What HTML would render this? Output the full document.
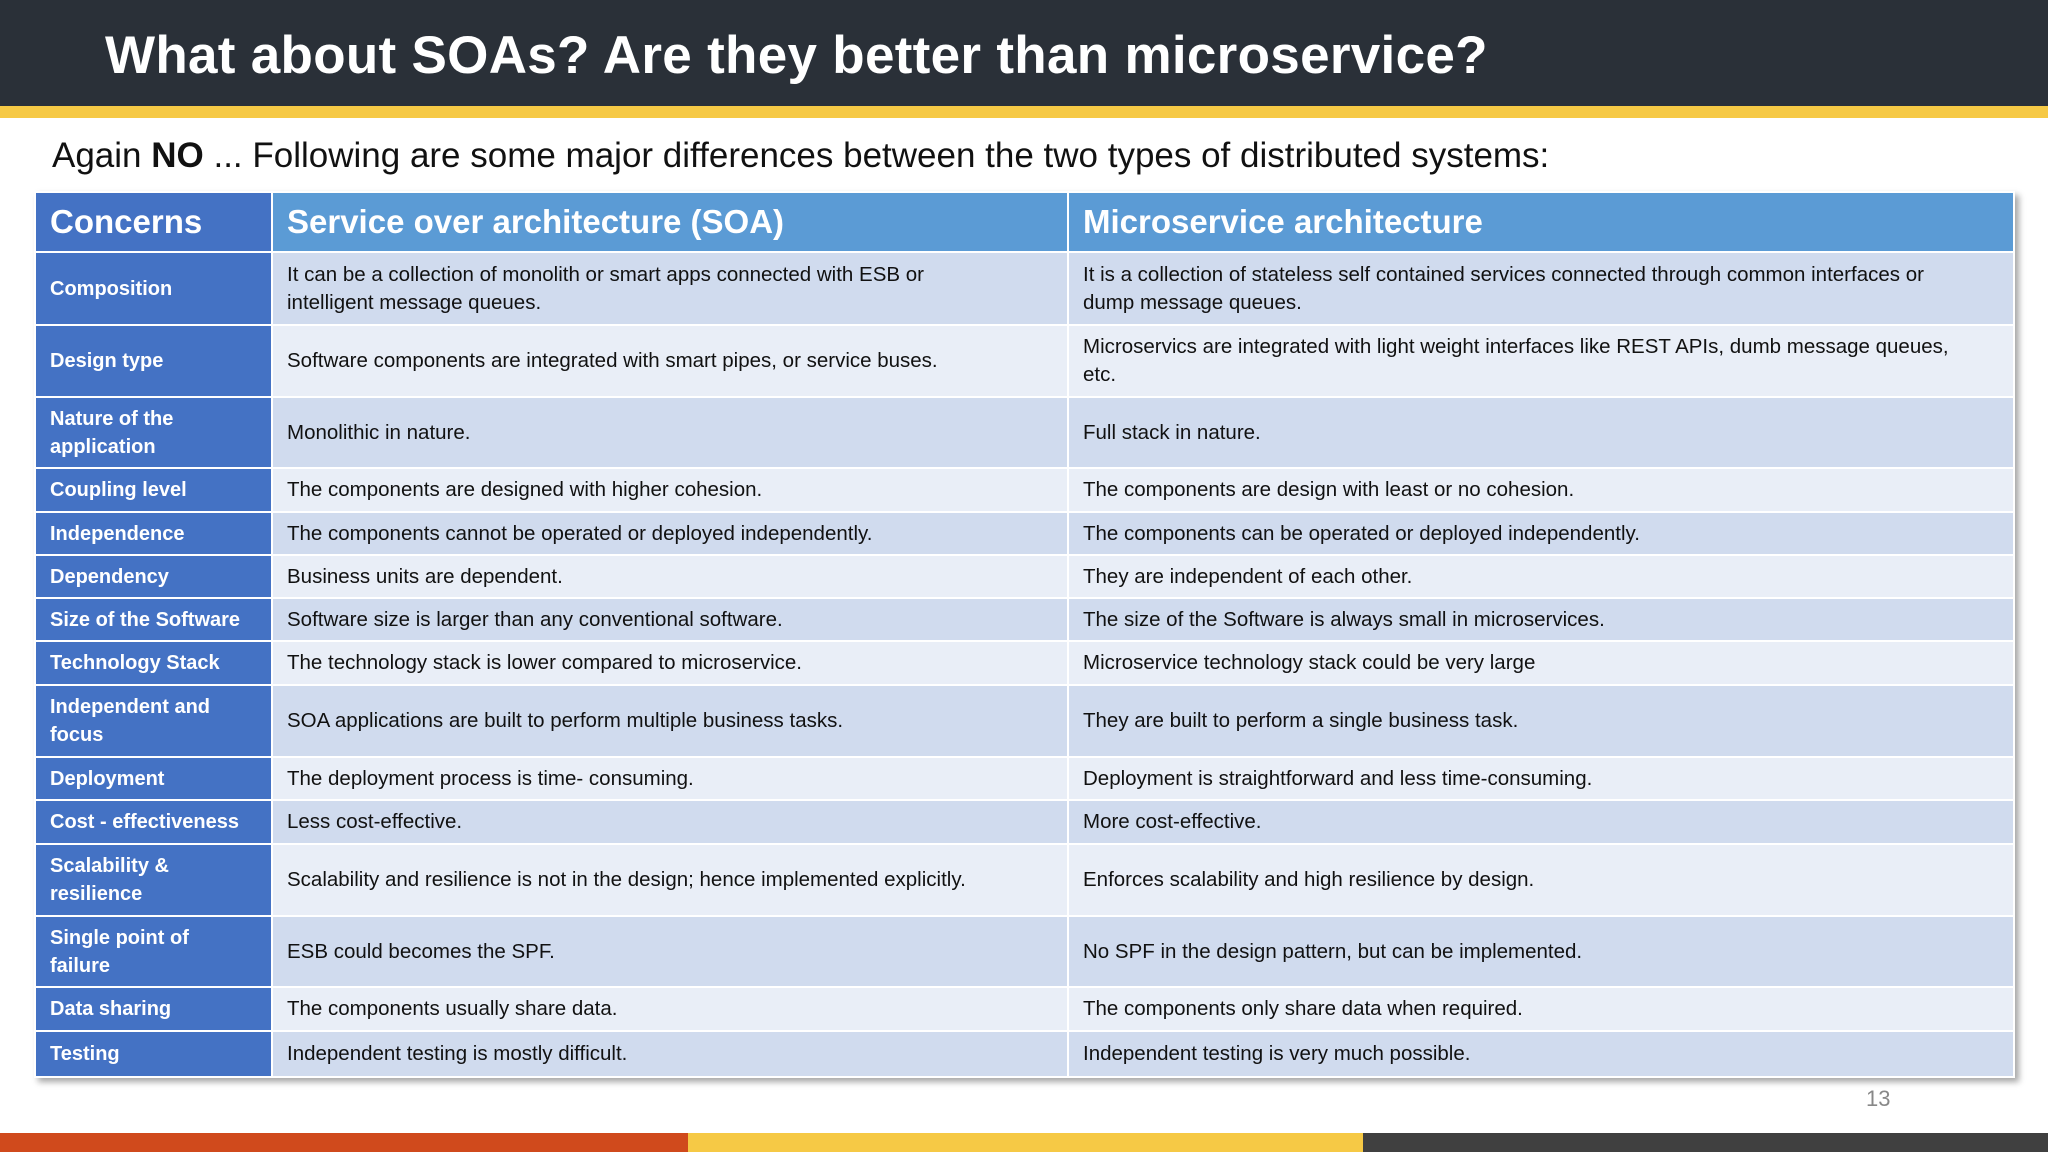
<!DOCTYPE html>
<html><head><meta charset="utf-8"><style>
*{margin:0;padding:0;box-sizing:border-box}
body{width:2048px;height:1152px;overflow:hidden;background:#fff;font-family:"Liberation Sans",sans-serif;position:relative}
#hdr{position:absolute;left:0;top:0;width:2048px;height:106px;background:#2a3038}
#hdr h1{position:absolute;left:105px;top:25px;color:#fff;font-size:53px;font-weight:bold;letter-spacing:0.3px}
#stripe{position:absolute;left:0;top:106px;width:2048px;height:12px;background:#f6c945}
#sub{position:absolute;left:52px;top:136px;font-size:35px;color:#111}
table{position:absolute;left:34px;top:191px;width:1981px;border-collapse:collapse;box-shadow:4px 4px 6px rgba(0,0,0,0.35);table-layout:fixed}
td,th{border:2px solid #fff;text-align:left;vertical-align:middle;padding:0 14px;font-size:20.5px;color:#111;line-height:28px}
th{background:#5b9bd5;color:#fff;font-size:33px;height:60px}
th.c,td.c{background:#4472c4;color:#fff;font-weight:bold;font-size:20px;padding-right:30px}
tr:nth-child(even) td{background:#d0dbee}
tr:nth-child(odd) td{background:#e9eef7}
tr td.c{background:#4472c4!important}
#num{position:absolute;left:1866px;top:1086px;font-size:22px;color:#888}
.bb{position:absolute;top:1133px;height:19px}
</style></head><body>
<div id="hdr"><h1>What about SOAs? Are they better than microservice?</h1></div>
<div id="stripe"></div>
<div id="sub">Again <b>NO</b> ... Following are some major differences between the two types of distributed systems:</div>
<table>
<colgroup><col style="width:237px"><col style="width:796px"><col></colgroup>
<tr><th class="c" style="font-size:33px">Concerns</th><th>Service over architecture (SOA)</th><th>Microservice architecture</th></tr>
<tr style="height:73px"><td class="c">Composition</td><td>It can be a collection of monolith or smart apps connected with ESB or<br>intelligent message queues.</td><td>It is a collection of stateless self contained services connected through common interfaces or<br>dump message queues.</td></tr>
<tr style="height:72px"><td class="c">Design type</td><td>Software components are integrated with smart pipes, or service buses.</td><td>Microservics are integrated with light weight interfaces like REST APIs, dumb message queues,<br>etc.</td></tr>
<tr style="height:71px"><td class="c">Nature of the application</td><td>Monolithic in nature.</td><td>Full stack in nature.</td></tr>
<tr style="height:44px"><td class="c">Coupling level</td><td>The components are designed with higher cohesion.</td><td>The components are design with least or no cohesion.</td></tr>
<tr style="height:43px"><td class="c">Independence</td><td>The components cannot be operated or deployed independently.</td><td>The components can be operated or deployed independently.</td></tr>
<tr style="height:43px"><td class="c">Dependency</td><td>Business units are dependent.</td><td>They are independent of each other.</td></tr>
<tr style="height:43px"><td class="c" style="padding-right:4px">Size of the Software</td><td>Software size is larger than any conventional software.</td><td>The size of the Software is always small in microservices.</td></tr>
<tr style="height:44px"><td class="c" style="padding-right:4px">Technology Stack</td><td>The technology stack is lower compared to microservice.</td><td>Microservice technology stack could be very large</td></tr>
<tr style="height:72px"><td class="c">Independent and focus</td><td>SOA applications are built to perform multiple business tasks.</td><td>They are built to perform a single business task.</td></tr>
<tr style="height:43px"><td class="c">Deployment</td><td>The deployment process is time- consuming.</td><td>Deployment is straightforward and less time-consuming.</td></tr>
<tr style="height:44px"><td class="c" style="padding-right:2px">Cost - effectiveness</td><td>Less cost-effective.</td><td>More cost-effective.</td></tr>
<tr style="height:72px"><td class="c">Scalability &amp;<br>resilience</td><td>Scalability and resilience is not in the design; hence implemented explicitly.</td><td>Enforces scalability and high resilience by design.</td></tr>
<tr style="height:71px"><td class="c">Single point of<br>failure</td><td>ESB could becomes the SPF.</td><td>No SPF in the design pattern, but can be implemented.</td></tr>
<tr style="height:44px"><td class="c">Data sharing</td><td>The components usually share data.</td><td>The components only share data when required.</td></tr>
<tr style="height:46px"><td class="c">Testing</td><td>Independent testing is mostly difficult.</td><td>Independent testing is very much possible.</td></tr>
</table>
<div id="num">13</div>
<div class="bb" style="left:0;width:688px;background:#d04a1c"></div>
<div class="bb" style="left:688px;width:675px;background:#f6c945"></div>
<div class="bb" style="left:1363px;width:685px;background:#404040"></div>
</body></html>
